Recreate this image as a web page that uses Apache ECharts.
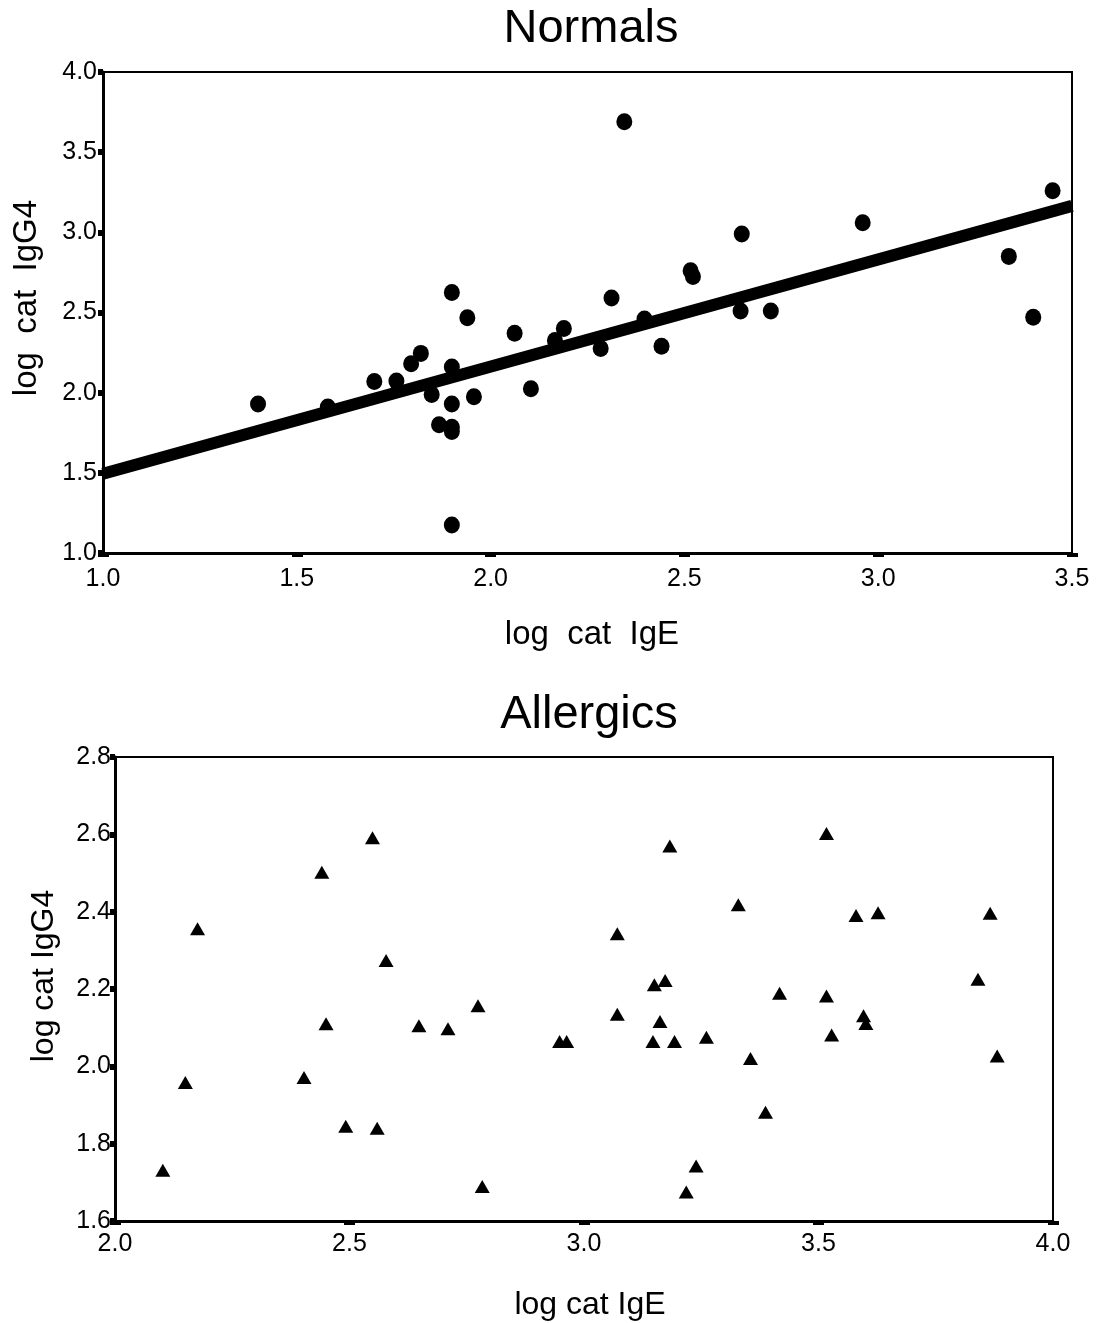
<!DOCTYPE html>
<html>
<head>
<meta charset="utf-8">
<title>Normals / Allergics: log cat IgG4 vs log cat IgE</title>
<script src="https://cdn.jsdelivr.net/npm/echarts@6/dist/echarts.min.js"></script>
<style>
  html, body { margin: 0; padding: 0; background: #fff; }
  #chart { width: 1100px; height: 1323px; }
</style>
</head>
<body>
<div id="chart"></div>
<script>
// Normals: log cat IgE (x) and log cat IgG4 (y)
const normalsIgE = [1.40, 1.58, 1.70, 1.757, 1.795, 1.82, 1.848, 1.867, 1.90, 1.90, 1.90, 1.90, 1.90, 1.90,
  1.94, 1.957, 2.062, 2.104, 2.166, 2.189, 2.284, 2.312, 2.345, 2.397, 2.441, 2.516, 2.522, 2.648, 2.645,
  2.723, 2.96, 3.337, 3.40, 3.45];
const normalsIgG4 = [1.93, 1.91, 2.07, 2.072, 2.18, 2.245, 1.988, 1.80, 2.625, 2.16, 1.93, 1.785, 1.758, 1.175,
  2.467, 1.975, 2.37, 2.025, 2.325, 2.40, 2.275, 2.59, 3.69, 2.46, 2.29, 2.76, 2.725, 2.99, 2.51,
  2.51, 3.06, 2.85, 2.47, 3.26];

// Regression line for the normals, end points at the x-axis limits
const fitIgE = [1.0, 3.5];
const fitIgG4 = [1.494, 3.165];

// Allergics: log cat IgE (x) and log cat IgG4 (y)
const allergicsIgE = [2.102, 2.150, 2.176, 2.403, 2.441, 2.450, 2.492, 2.549, 2.559, 2.578, 2.648, 2.710,
  2.774, 2.783, 2.948, 2.963, 3.071, 3.071, 3.147, 3.150, 3.162, 3.173, 3.183, 3.193, 3.218, 3.239,
  3.261, 3.329, 3.355, 3.387, 3.417, 3.517, 3.517, 3.528, 3.580, 3.596, 3.601, 3.627, 3.840, 3.866, 3.881];
const allergicsIgG4 = [1.731, 1.958, 2.356, 1.971, 2.502, 2.110, 1.845, 2.591, 1.840, 2.274, 2.105, 2.097,
  2.157, 1.689, 2.064, 2.064, 2.343, 2.135, 2.064, 2.211, 2.116, 2.222, 2.570, 2.064, 1.675, 1.742,
  2.075, 2.418, 2.020, 1.881, 2.189, 2.602, 2.182, 2.081, 2.390, 2.131, 2.111, 2.397, 2.225, 2.396, 2.027];

// Axis ranges
const normalsX = { min: 1.0, max: 3.5, interval: 0.5 };
const normalsY = { min: 1.0, max: 4.0, interval: 0.5 };
const allergicsX = { min: 2.0, max: 4.0, interval: 0.5 };
const allergicsY = { min: 1.6, max: 2.8, interval: 0.2 };

const FONT = '"Liberation Sans", Arial, Helvetica, sans-serif';
const TICK_FONT = 'Liberation Sans';
const zip = (xs, ys) => xs.map((x, i) => [x, ys[i]]);

function xAxisOf(range, gridIndex, margin) {
  return {
    type: 'value', gridIndex, min: range.min, max: range.max, interval: range.interval,
    splitLine: { show: false },
    axisLine: { show: true, onZero: false, lineStyle: { color: '#000', width: 3 } },
    axisTick: { show: true, length: 4, lineStyle: { color: '#000', width: 11 } },
    axisLabel: { color: '#000', fontFamily: TICK_FONT, fontSize: 25, margin,
      formatter: v => v.toFixed(1) }
  };
}
function yAxisOf(range, gridIndex, margin) {
  return {
    type: 'value', gridIndex, min: range.min, max: range.max, interval: range.interval,
    splitLine: { show: false },
    axisLine: { show: true, onZero: false, lineStyle: { color: '#000', width: 3 } },
    axisTick: { show: true, length: 5, lineStyle: { color: '#000', width: 6 } },
    axisLabel: { color: '#000', fontFamily: TICK_FONT, fontSize: 25, margin,
      formatter: v => v.toFixed(1) }
  };
}

function label(text, x, y, size, rotation) {
  return {
    type: 'text', x, y, rotation: rotation || 0,
    style: { text, fill: '#000', font: size + 'px ' + FONT, textAlign: 'center', textVerticalAlign: 'middle' }
  };
}

const chart = echarts.init(document.getElementById('chart'), null, { renderer: 'canvas' });
chart.setOption({
  animation: false,
  backgroundColor: '#fff',
  grid: [
    { left: 103, top: 72, width: 969, height: 481, show: true, borderColor: '#000', borderWidth: 2, backgroundColor: 'transparent' },
    { left: 115, top: 757, width: 938, height: 464, show: true, borderColor: '#000', borderWidth: 2, backgroundColor: 'transparent' }
  ],
  xAxis: [xAxisOf(normalsX, 0, 14), xAxisOf(allergicsX, 1, 11)],
  yAxis: [yAxisOf(normalsY, 0, 6), yAxisOf(allergicsY, 1, 4)],
  graphic: [
    label('Normals', 591, 29, 47),
    label('log  cat  IgE', 592, 635, 33),
    label('log  cat  IgG4', 27, 298, 33, Math.PI / 2),
    label('Allergics', 589, 715, 47),
    label('log cat IgE', 590, 1305, 32),
    label('log cat IgG4', 44, 976, 32, Math.PI / 2)
  ],
  series: [
    {
      type: 'scatter', xAxisIndex: 0, yAxisIndex: 0,
      symbol: 'circle', symbolSize: [16, 17],
      itemStyle: { color: '#000', opacity: 1 },
      data: zip(normalsIgE, normalsIgG4)
    },
    {
      type: 'line', xAxisIndex: 0, yAxisIndex: 0,
      showSymbol: false, symbol: 'none',
      lineStyle: { color: '#000', width: 12, cap: 'butt' },
      data: zip(fitIgE, fitIgG4)
    },
    {
      type: 'scatter', xAxisIndex: 1, yAxisIndex: 1,
      symbol: 'triangle', symbolSize: [15, 13],
      itemStyle: { color: '#000', opacity: 1 },
      data: zip(allergicsIgE, allergicsIgG4)
    }
  ]
});
</script>
</body>
</html>
